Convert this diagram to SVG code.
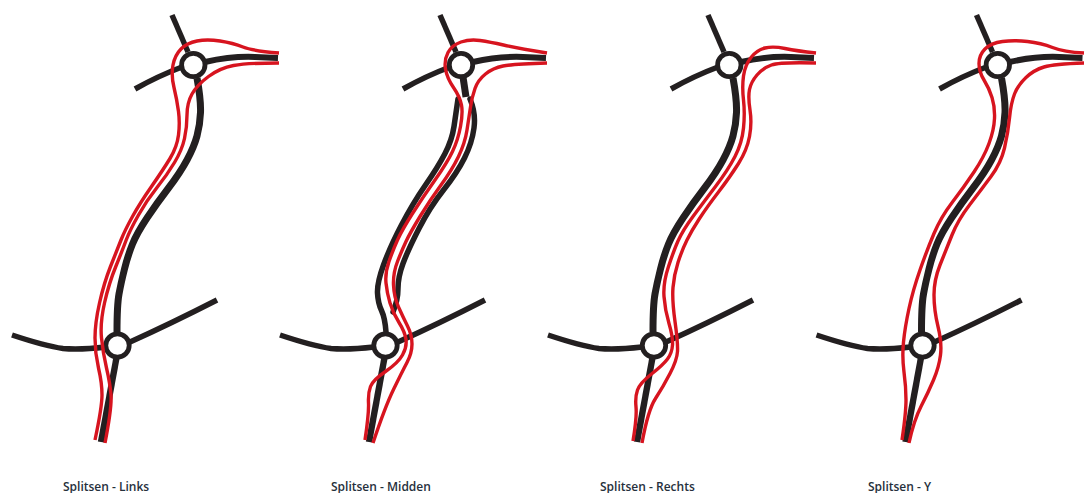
<svg xmlns="http://www.w3.org/2000/svg" width="1091" height="493" viewBox="0 0 1091 493">
<style>
.road,.thin,.stem,.route{fill:none;stroke-linecap:butt;stroke-linejoin:round}
.road{stroke:#231f20;stroke-width:7}
.thin{stroke:#231f20;stroke-width:5.5}
.route{stroke:#d7141f;stroke-width:3.4}
.rb{fill:#fff;stroke:#231f20;stroke-width:4.8}
.lbl{font-family:"Open Sans","Noto Sans",sans-serif;font-size:12px;font-weight:600;fill:#26303c}
</style>
<defs>
<g id="arms">
<path class="thin" d="M172 15 L188 52"/>
<path class="thin" d="M135 89 Q158 76 182 67"/>
<path class="road" style="stroke-width:6" d="M205 62 Q232 56 255 57 L278 58"/>
<path class="thin" d="M12 335 Q45 346 63 348.5 Q80 350 106 347"/>
<path class="thin" d="M130 342 Q170 324 217 300"/>
<path class="road" style="stroke-width:6.4" d="M117 355 L101 442"/>
</g>
<path id="main" class="road" d="M197 78 Q201 100 200.5 112.5 Q200 125 197 136 Q194 147 187 160 Q180 173 168.5 188 Q157 203 147 218 Q137 233 132.5 244 Q128 255 124.5 269 Q121 283 119 294 Q117 305 117 332"/>
</defs>
<g id="connectors">
<use href="#arms"/><use href="#main"/>
<use href="#arms" x="268"/>
<path class="road" d="M463 77 L466 97"/>
<path class="thin" style="stroke-linecap:round" d="M458 99 Q456 113 454 126.5 Q452 140 445 153.5 Q438 167 425.5 185 Q413 203 401.5 225 Q390 247 383.5 265 Q377 283 377.5 293 Q378 303 381.5 310.5 Q385 318 386 332"/>
<path class="thin" style="stroke-linecap:round" d="M470 99 Q476 113 474 128 Q472 143 464.5 158 Q457 173 443.5 190 Q430 207 419 228.5 Q408 250 403 263.5 Q398 277 398 288.5 Q398 300 393 312"/>
<use href="#arms" x="536"/><use href="#main" x="536"/>
<use href="#arms" x="804.5"/><use href="#main" x="804.5"/>
</g>
<g id="rb-links-top"><circle class="rb" cx="193.3" cy="65" r="11.7"/></g>
<g id="rb-links-bottom"><circle class="rb" cx="117.5" cy="345.5" r="11.7"/></g>
<g id="rb-midden-top"><circle class="rb" cx="461" cy="65" r="11.7"/></g>
<g id="rb-midden-bottom"><circle class="rb" cx="385.5" cy="345.5" r="11.7"/></g>
<g id="rb-rechts-top"><circle class="rb" cx="729.3" cy="65" r="11.7"/></g>
<g id="rb-rechts-bottom"><circle class="rb" cx="654" cy="345.5" r="11.7"/></g>
<g id="rb-y-top"><circle class="rb" cx="997.8" cy="65" r="11.7"/></g>
<g id="rb-y-bottom"><circle class="rb" cx="922.5" cy="345.5" r="11.7"/></g>
<g id="routes">
<path class="route" d="M279 53 Q253 51 243 47 Q233 43 220 41 Q207 39 197 41 Q187 43 181 49 Q175 55 173 65 Q171 75 174 87.5 Q177 100 178.5 111.5 Q180 123 178.5 135 Q177 147 170 158.5 Q163 170 151.5 186.5 Q140 203 132.5 216.5 Q125 230 121 240 Q117 250 110.5 266.5 Q104 283 99.5 303 Q95 323 95 338 Q95 353 98.5 368 Q102 383 102 395 Q102 407 95 440"/>
<path class="route" d="M279 63 Q247 63 233.5 65.5 Q220 68 208.5 76.5 Q197 85 192 94 Q187 103 187 115 Q187 127 184.5 138.5 Q182 150 174.5 162.5 Q167 175 157 187.5 Q147 200 138.5 215 Q130 230 126.2 240 Q122.5 250 115.8 266.5 Q109 283 104.5 303 Q100 323 101.5 338 Q103 353 106.5 368 Q110 383 111 395 Q112 407 105 443"/>
<path class="route" d="M547 53 Q517 48 503.5 45 Q490 42 480 40.5 Q470 39 461 42 Q452 45 448 52.5 Q444 60 445.5 69 Q447 78 453.5 87.5 Q460 97 461.5 105 Q463 113 460.5 126.5 Q458 140 452.5 151.5 Q447 163 435 180 Q423 197 412.5 213.5 Q402 230 397.5 240 Q393 250 389 261.5 Q385 273 386 283 Q387 293 390 303 Q393 313 399 322.5 Q405 332 406 339.5 Q407 347 402.5 355 Q398 363 385.5 371.5 Q373 380 370.5 386.5 Q368 393 368.5 403 Q369 413 365 440"/>
<path class="route" d="M547 63 Q513 64 503 66 Q493 68 485.5 74 Q478 80 475 88.5 Q472 97 470.5 107 Q469 117 467 130 Q465 143 458.5 156.5 Q452 170 441 185 Q430 200 420 216.5 Q410 233 406 241.5 Q402 250 397.5 261.5 Q393 273 393.5 285 Q394 297 398.5 307 Q403 317 407.5 326 Q412 335 412 344 Q412 353 407 362.5 Q402 372 393.5 389.5 Q385 407 373 443"/>
<path class="route" d="M816 53 Q797 51 785 48.5 Q773 46 765 48 Q757 50 751 57.5 Q745 65 743.5 76 Q742 87 743.5 100 Q745 113 743.5 128 Q742 143 735 156.5 Q728 170 715.5 186.5 Q703 203 693 216.5 Q683 230 678 241 Q674 250 668.5 266.5 Q663 283 664 296.5 Q665 310 669 323.5 Q673 337 672.5 345 Q672 353 667.5 359 Q663 365 651.5 374 Q640 383 637.5 390 Q635 397 636 407 Q637 417 633 441"/>
<path class="route" d="M816 63 Q780 62 771.5 65 Q763 68 757 75 Q751 82 749.5 89.5 Q748 97 750 110 Q752 123 749.5 136.5 Q747 150 738.5 163.5 Q730 177 718.5 192 Q707 207 699.5 218.5 Q692 230 687 240 Q682 250 678 262.5 Q674 275 673 287.5 Q672 300 675 321.5 Q678 343 677.5 351.5 Q677 360 670 373.5 Q663 387 655.5 398.5 Q648 410 642 443"/>
<path class="route" d="M1084 53 Q1064 52 1052.5 47.5 Q1041 43 1027.5 41.5 Q1014 40 1002.5 41.5 Q991 43 985 49 Q979 55 979 63.5 Q979 72 984 80 Q989 88 992 97.5 Q995 107 994.5 118.5 Q994 130 989 143.5 Q984 157 974 172 Q964 187 952.5 202 Q941 217 934 233.5 Q927 250 920 270 Q913 290 909 308.5 Q905 327 903.5 342 Q902 357 904 372 Q906 387 906 400 Q906 413 902 440"/>
<path class="route" d="M1084 63 Q1054 64 1044 67 Q1034 70 1026 77.5 Q1018 85 1014.5 94 Q1011 103 1009.5 118 Q1008 133 1004.5 148 Q1001 163 991 176.5 Q981 190 969.5 205 Q958 220 952 235 Q946 250 940 265 Q934 280 934 295 Q934 310 938 326.5 Q942 343 940.5 355 Q939 367 933.5 380 Q928 393 921 406.5 Q914 420 909 443"/>
</g>
<g id="labels">
<text class="lbl" x="63" y="490.5">Splitsen - Links</text>
<text class="lbl" x="331" y="490.5">Splitsen - Midden</text>
<text class="lbl" x="600" y="490.5">Splitsen - Rechts</text>
<text class="lbl" x="868" y="490.5">Splitsen - Y</text>
</g>
</svg>
